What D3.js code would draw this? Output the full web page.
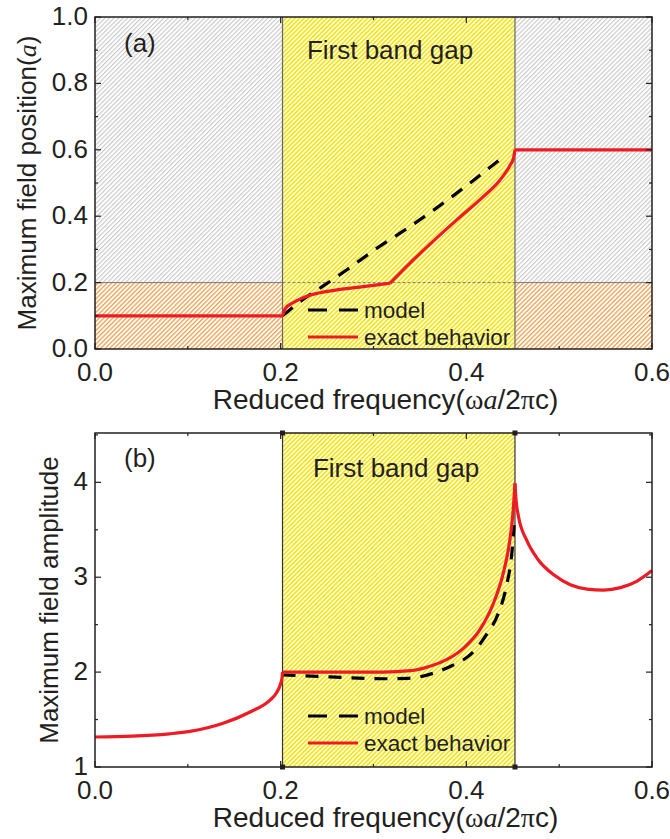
<!DOCTYPE html>
<html><head><meta charset="utf-8">
<script src="https://cdn.jsdelivr.net/npm/d3@7"></script>
<style>body{margin:0;background:#fff}svg{display:block}text{font-family:"Liberation Sans",Arial,sans-serif;fill:#231f20}</style>
</head><body><svg id="c" width="670" height="839"></svg>
<script>
// ---------- data ----------
const xTicks = [0.0, 0.2, 0.4, 0.6];
const xMinor = [0.1, 0.3, 0.5];
const yTicksA = [0.0, 0.2, 0.4, 0.6, 0.8, 1.0];
const yMinorA = [0.1, 0.3, 0.5, 0.7, 0.9];
const yTicksB = [1, 2, 3, 4];
const yMinorB = [1.5, 2.5, 3.5, 4.5];
const gapStart = 0.202, gapEnd = 0.4524;
const gapLabel = "First band gap";
const legendLabels = ["model", "exact behavior"];

// (a) maximum field position
const exactA1 = [[0,0.1],[0.1,0.1],[0.202,0.1]];
const exactA2 = [[0.202,0.1],[0.205,0.122],[0.2137,0.14],[0.2316,0.162],[0.2604,0.178],[0.289,0.188],[0.3178,0.198]];
const exactA3 = [[0.3178,0.198],[0.339,0.258],[0.3609,0.316],[0.3896,0.389],[0.4183,0.459],[0.4363,0.509],[0.447,0.553],[0.4508,0.575],[0.4524,0.6]];
const exactA4 = [[0.4524,0.6],[0.6,0.6]];
const modelA = [[0.202,0.1],[0.222,0.145],[0.2459,0.19],[0.271,0.238],[0.3034,0.303],[0.3357,0.362],[0.368,0.425],[0.4003,0.492],[0.438,0.575]];

// (b) maximum field amplitude
const exactB1 = [[0,1.316],[0.04,1.325],[0.08,1.35],[0.1023,1.375],[0.138,1.46],[0.167,1.58],[0.1885,1.705],[0.195,1.775],[0.2,1.88],[0.2015,1.94],[0.202,2.0]];
const exactB2 = [[0.202,2.0],[0.25,2.0],[0.31,2.0],[0.34,2.015],[0.36,2.06],[0.3717,2.1],[0.3968,2.25],[0.4148,2.45],[0.429,2.72],[0.44,3.05],[0.447,3.4],[0.4506,3.72],[0.4524,3.99]];
const exactB3 = [[0.4524,3.99],[0.4535,3.82],[0.456,3.65],[0.465,3.39],[0.477,3.19],[0.495,3.02],[0.512,2.92],[0.53,2.875],[0.548,2.865],[0.566,2.89],[0.584,2.96],[0.6,3.07]];
const modelB = [[0.202,1.97],[0.24,1.955],[0.275,1.94],[0.31,1.93],[0.338,1.935],[0.365,1.99],[0.385,2.07],[0.397,2.13],[0.41,2.24],[0.422,2.40],[0.4345,2.62],[0.4435,2.92],[0.449,3.25],[0.4515,3.55]];

// ---------- drawing ----------
const svg = d3.select("#c");
const RED = "#ed1c24";
const SERIF = "'Liberation Serif','Times New Roman',serif";
const defs = svg.append("defs");
function hatch(id, bg, fg, w) {
  const p = defs.append("pattern").attr("id", id).attr("patternUnits", "userSpaceOnUse")
    .attr("width", 3.2).attr("height", 3.2).attr("patternTransform", "rotate(45)");
  p.append("rect").attr("width", 3.2).attr("height", 3.2).attr("fill", bg);
  p.append("rect").attr("width", w).attr("height", 3.2).attr("fill", fg);
}
hatch("hGray", "#ffffff", "#c8c8c8", 1.1);
hatch("hOrange", "#ffffff", "#f2a050", 1.3);
hatch("hYellow", "#fffde4", "#f5e40a", 1.5);

const L = 95, R = 652;
const x = d3.scaleLinear().domain([0, 0.6]).range([L, R]);

function frame(g, y, yt, ym, yfmt) {
  const [yb, ytop] = y.range();
  const tk = g.append("g").attr("stroke", "#231f20").attr("stroke-width", 1.2);
  xTicks.concat(xMinor).forEach(v => {
    const len = xTicks.includes(v) ? 6 : 3;
    tk.append("line").attr("x1", x(v)).attr("x2", x(v)).attr("y1", yb).attr("y2", yb - len);
    tk.append("line").attr("x1", x(v)).attr("x2", x(v)).attr("y1", ytop).attr("y2", ytop + len);
  });
  yt.concat(ym).forEach(v => {
    const len = yt.includes(v) ? 6 : 3;
    tk.append("line").attr("x1", L).attr("x2", L + len).attr("y1", y(v)).attr("y2", y(v));
    tk.append("line").attr("x1", R).attr("x2", R - len).attr("y1", y(v)).attr("y2", y(v));
  });
  g.append("rect").attr("x", L).attr("y", ytop).attr("width", R - L).attr("height", yb - ytop)
    .attr("fill", "none").attr("stroke", "#231f20").attr("stroke-width", 1.5);
  xTicks.forEach(v => g.append("text").attr("x", x(v)).attr("y", yb + 32).attr("text-anchor", "middle")
    .attr("font-size", 26).text(d3.format(".1f")(v)));
  yt.forEach(v => g.append("text").attr("x", L - 7).attr("y", y(v) + 8).attr("text-anchor", "end")
    .attr("font-size", 26).text(yfmt(v)));
  const xt = g.append("text").attr("x", (L + R) / 2 + 12).attr("y", yb + 60).attr("text-anchor", "middle").attr("font-size", 28);
  xt.append("tspan").text("Reduced frequency(");
  xt.append("tspan").attr("font-family", SERIF).text("ω");
  xt.append("tspan").attr("font-family", SERIF).attr("font-style", "italic").text("a");
  xt.append("tspan").text("/2");
  xt.append("tspan").attr("font-family", SERIF).text("π");
  xt.append("tspan").text("c)");
}
function legend(g, yTop) {
  g.append("line").attr("x1", 308).attr("x2", 358).attr("y1", yTop).attr("y2", yTop)
    .attr("stroke", "#000").attr("stroke-width", 3.2).attr("stroke-dasharray", "19,12");
  g.append("line").attr("x1", 308).attr("x2", 358).attr("y1", yTop + 27).attr("y2", yTop + 27)
    .attr("stroke", RED).attr("stroke-width", 3.2);
  g.append("text").attr("x", 364).attr("y", yTop + 8).attr("font-size", 22.5).text(legendLabels[0]);
  g.append("text").attr("x", 364).attr("y", yTop + 35).attr("font-size", 22.5).text(legendLabels[1]);
}

// ---- panel (a)
const ya = d3.scaleLinear().domain([0, 1]).range([349, 17]);
const ga = svg.append("g");
ga.append("rect").attr("x", x(0)).attr("y", ya(1)).attr("width", x(gapStart) - x(0)).attr("height", ya(0.2) - ya(1)).attr("fill", "url(#hGray)");
ga.append("rect").attr("x", x(gapEnd)).attr("y", ya(1)).attr("width", x(0.6) - x(gapEnd)).attr("height", ya(0.2) - ya(1)).attr("fill", "url(#hGray)");
ga.append("rect").attr("x", x(0)).attr("y", ya(0.2)).attr("width", x(gapStart) - x(0)).attr("height", ya(0) - ya(0.2)).attr("fill", "url(#hOrange)");
ga.append("rect").attr("x", x(gapEnd)).attr("y", ya(0.2)).attr("width", x(0.6) - x(gapEnd)).attr("height", ya(0) - ya(0.2)).attr("fill", "url(#hOrange)");
ga.append("rect").attr("x", x(gapStart)).attr("y", ya(1)).attr("width", x(gapEnd) - x(gapStart)).attr("height", ya(0) - ya(1)).attr("fill", "url(#hYellow)");
ga.append("line").attr("x1", x(0)).attr("x2", x(gapStart)).attr("y1", ya(0.2)).attr("y2", ya(0.2)).attr("stroke", "#777").attr("stroke-width", 1);
ga.append("line").attr("x1", x(gapEnd)).attr("x2", x(0.6)).attr("y1", ya(0.2)).attr("y2", ya(0.2)).attr("stroke", "#777").attr("stroke-width", 1);
ga.append("line").attr("x1", x(gapStart)).attr("x2", x(gapEnd)).attr("y1", ya(0.2)).attr("y2", ya(0.2)).attr("stroke", "#777").attr("stroke-width", 1).attr("stroke-dasharray", "3,2");
[gapStart, gapEnd].forEach(v => ga.append("line").attr("x1", x(v)).attr("x2", x(v)).attr("y1", ya(0)).attr("y2", ya(1)).attr("stroke", "#666").attr("stroke-width", 1.2));

const lineA = d3.line().x(d => x(d[0])).y(d => ya(d[1])).curve(d3.curveMonotoneX);
ga.append("path").attr("d", lineA(modelA)).attr("fill", "none").attr("stroke", "#000").attr("stroke-width", 3.2).attr("stroke-dasharray", "13,10");
[exactA1, exactA2, exactA3, exactA4].forEach(s => ga.append("path").attr("d", lineA(s)).attr("fill", "none").attr("stroke", RED).attr("stroke-width", 3.2).attr("stroke-linejoin", "round"));
frame(ga, ya, yTicksA, yMinorA, d3.format(".1f"));
ga.append("text").attr("x", 124).attr("y", 52).attr("font-size", 26).text("(a)");
ga.append("text").attr("x", 390).attr("y", 59).attr("text-anchor", "middle").attr("font-size", 26).text(gapLabel);
legend(ga, 310);
const yta = ga.append("text").attr("transform", `translate(36,${(17 + 349) / 2}) rotate(-90)`).attr("text-anchor", "middle").attr("font-size", 26);
yta.append("tspan").text("Maximum field position(");
yta.append("tspan").attr("font-family", SERIF).attr("font-style", "italic").text("a");
yta.append("tspan").text(")");

// ---- panel (b)
const yb = d3.scaleLinear().domain([1, 4.52]).range([767, 433]);
const gb = svg.append("g");
gb.append("rect").attr("x", x(gapStart)).attr("y", yb(4.52)).attr("width", x(gapEnd) - x(gapStart)).attr("height", yb(1) - yb(4.52)).attr("fill", "url(#hYellow)");
[gapStart, gapEnd].forEach(v => {
  gb.append("line").attr("x1", x(v)).attr("x2", x(v)).attr("y1", yb(1)).attr("y2", yb(4.52)).attr("stroke", "#333").attr("stroke-width", 1.2);
  [1, 4.52].forEach(w => gb.append("rect").attr("x", x(v) - 2.5).attr("y", yb(w) - 2.5).attr("width", 5).attr("height", 5).attr("fill", "#231f20"));
});
const lineB = d3.line().x(d => x(d[0])).y(d => yb(d[1])).curve(d3.curveMonotoneX);
gb.append("path").attr("d", lineB(modelB)).attr("fill", "none").attr("stroke", "#000").attr("stroke-width", 3.2).attr("stroke-dasharray", "13,10");
[exactB1, exactB2, exactB3].forEach(s => gb.append("path").attr("d", lineB(s)).attr("fill", "none").attr("stroke", RED).attr("stroke-width", 3.2).attr("stroke-linejoin", "round"));
frame(gb, yb, yTicksB, yMinorB, d3.format("d"));
gb.append("text").attr("x", 124).attr("y", 467).attr("font-size", 26).text("(b)");
gb.append("text").attr("x", 396).attr("y", 477).attr("text-anchor", "middle").attr("font-size", 26).text(gapLabel);
legend(gb, 716);
gb.append("text").attr("transform", `translate(58,${(433 + 767) / 2}) rotate(-90)`).attr("text-anchor", "middle").attr("font-size", 26).text("Maximum field amplitude");
</script></body></html>
